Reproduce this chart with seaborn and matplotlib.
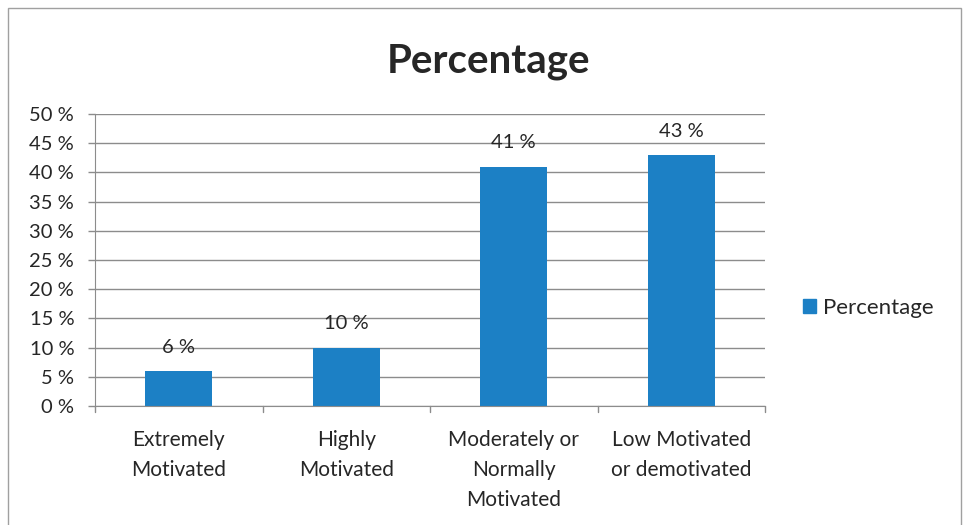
import numpy as np
import pandas as pd
import seaborn as sns
import matplotlib.pyplot as plt
from matplotlib.patches import Rectangle, Patch

sns.set_style("white")
plt.rcParams['font.family'] = ['Lato', 'DejaVu Sans']

categories = ["Extremely\nMotivated", "Highly\nMotivated",
              "Moderately or\nNormally\nMotivated", "Low Motivated\nor demotivated"]
values = [6, 10, 41, 43]
yticks = [0, 5, 10, 15, 20, 25, 30, 35, 40, 45, 50]
bar_color = "#1c80c5"
grid_color = "#8c8c8c"
text_color = "#262626"

df = pd.DataFrame({"Category": categories, "Percentage": values})

fig = plt.figure(figsize=(9.63, 5.25), dpi=100)
ax = fig.add_axes([95/963, 1 - 406/525, 670/963, 292/525])

sns.barplot(data=df, x="Category", y="Percentage", color=bar_color,
            width=0.4, saturation=1, linewidth=0, ax=ax)

ax.set_ylim(0, 50)
ax.set_xlim(-0.5, 3.5)
ax.set_yticks(yticks)
ax.set_yticklabels([f"{v} %" for v in yticks], fontsize=14.5, color=text_color)
ax.set_xticks(np.arange(4))
ax.set_xticklabels(categories, fontsize=15, color=text_color, linespacing=1.65)
ax.tick_params(axis="x", length=0, pad=17)
ax.tick_params(axis="y", length=5, color=grid_color, width=1, pad=10, left=True)
for b in [-0.5, 0.5, 1.5, 2.5, 3.5]:
    ax.plot([b, b], [0, -0.02], transform=ax.get_xaxis_transform(),
            color=grid_color, lw=1, clip_on=False)

ax.set_axisbelow(True)
ax.yaxis.grid(True, color=grid_color, lw=1)
for s in ["top", "right"]:
    ax.spines[s].set_visible(False)
ax.spines["left"].set_color(grid_color)
ax.spines["bottom"].set_color(grid_color)
ax.set_xlabel("")
ax.set_ylabel("")

ax.bar_label(ax.containers[0], labels=[f"{v} %" for v in values],
             fontsize=14.5, color=text_color, padding=11)

fig.text(488/963, 1 - 62/525, "Percentage", ha="center", va="center",
         fontsize=29, fontweight="bold", color=text_color)

fig.legend(handles=[Patch(color=bar_color, label="Percentage")],
           loc="center left", bbox_to_anchor=(783/963, 1 - 308/525),
           frameon=False, fontsize=16, handlelength=0.6, handleheight=0.6,
           handletextpad=0.3, labelcolor=text_color)

fig.patches.append(Rectangle((8/963, -0.05), 953/963, 1.05 - 8/525,
                             transform=fig.transFigure, fill=False,
                             edgecolor="#a0a0a0", lw=1))

fig.savefig("out.png", dpi=100)
